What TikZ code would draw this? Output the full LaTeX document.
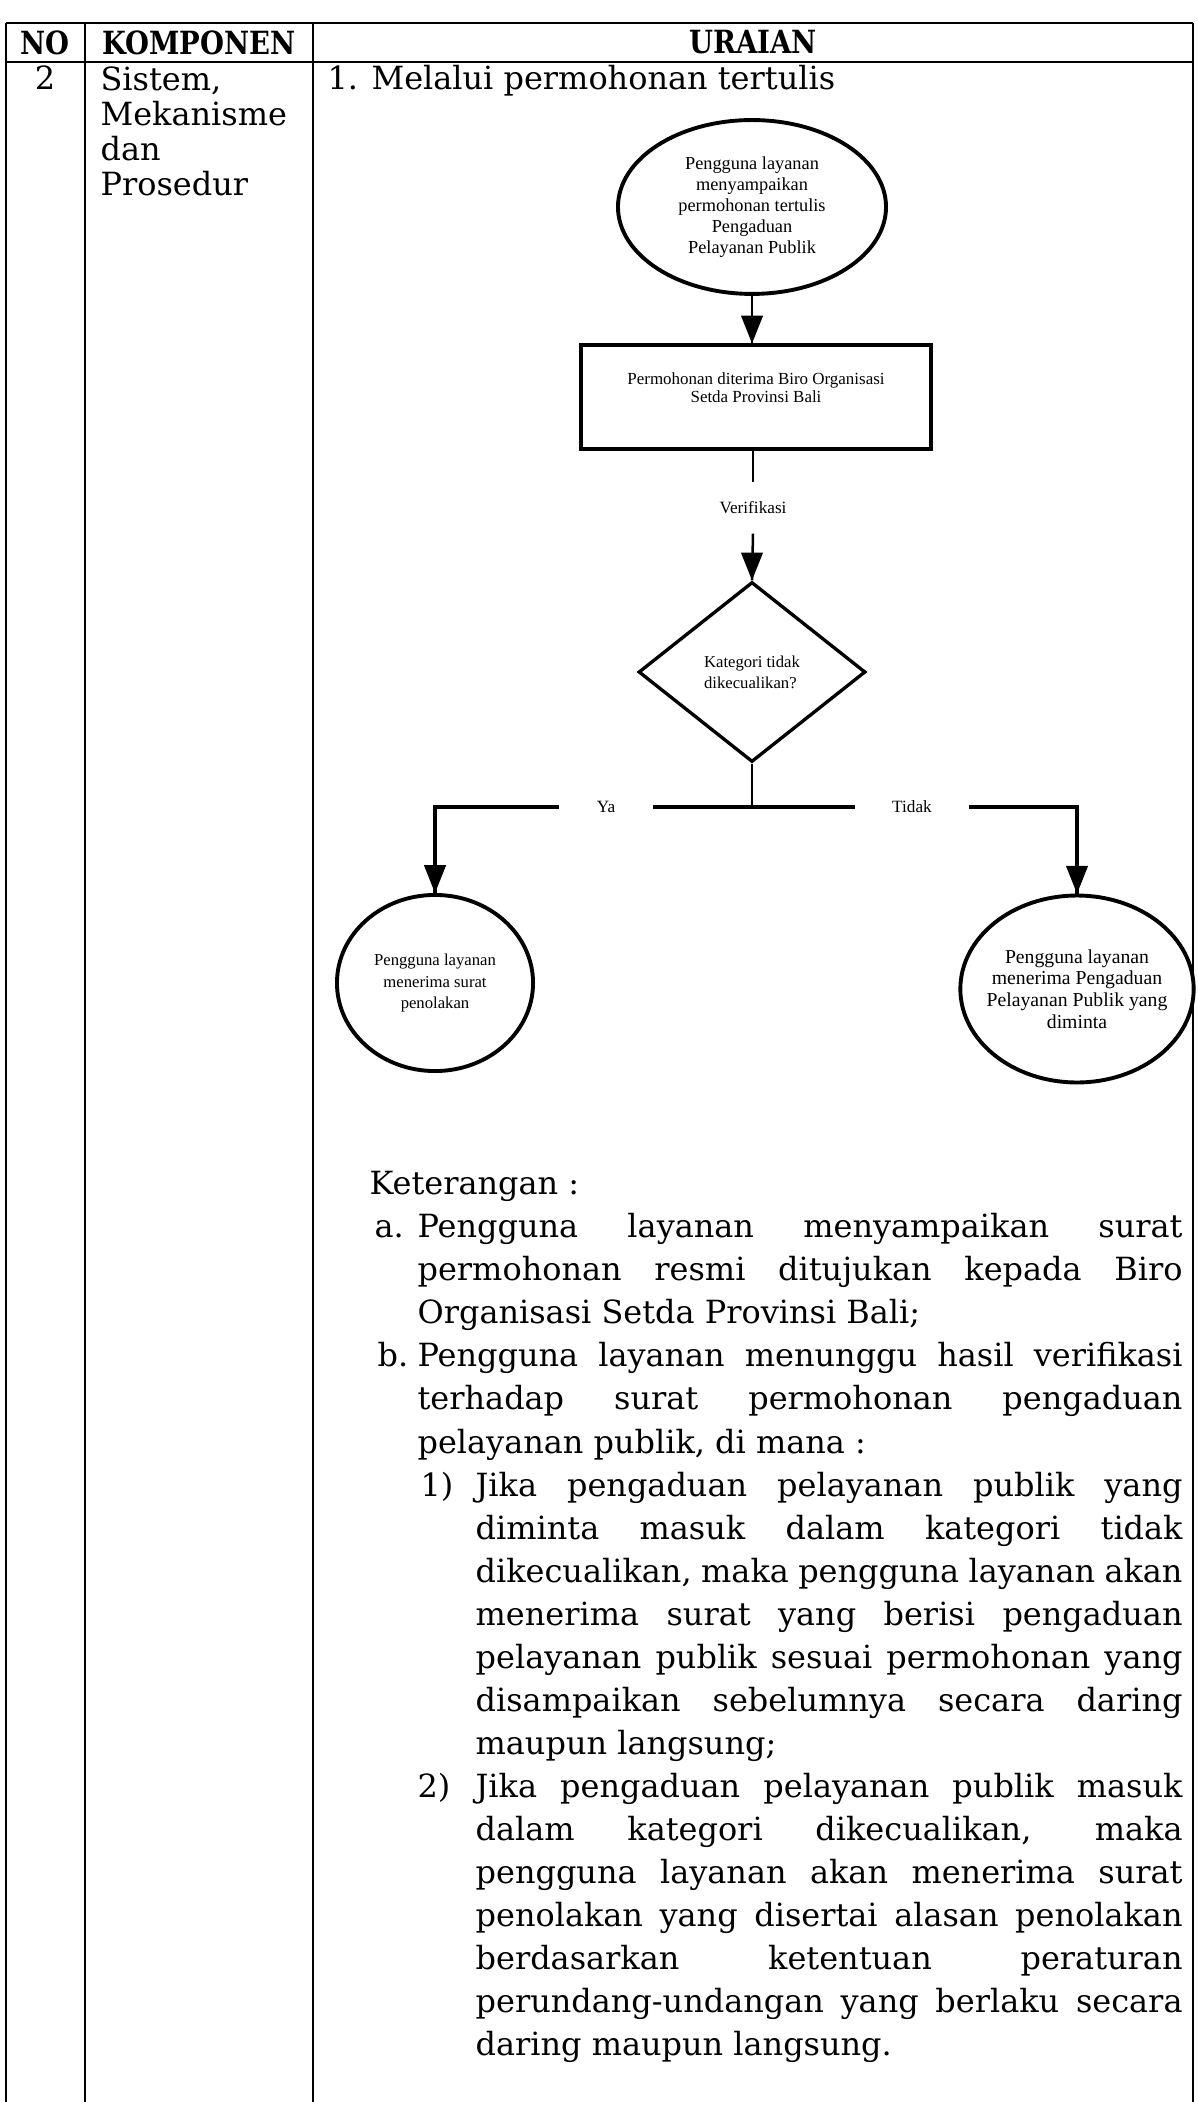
\documentclass[tikz,border=0pt]{standalone}
\usepackage{fontspec}
\setmainfont{DejaVu Serif}
\newfontfamily\flowfont{Liberation Serif}
\newfontfamily\headfont{DejaVu Serif}[FakeStretch=0.86]
\usetikzlibrary{shapes.geometric}

\begin{document}
\begin{tikzpicture}[x=0.36pt,y=0.36pt]
\tikzstyle{every node}+=[inner sep=0pt, font=\fontsize{11.5}{14}\selectfont]
\tikzstyle{tableline}=[black, line width=0.9pt]
\tikzstyle{flowline}=[black, line width=0.9pt]
\tikzstyle{headtext}=[font=\headfont\fontsize{11.5}{14}\selectfont\bfseries]
\tikzstyle{terminal}=[draw, ellipse, line width=1.4pt, align=center]
\tikzstyle{process}=[draw, rectangle, line width=1.2pt, align=center]
\tikzstyle{decision}=[draw, diamond, line width=1.2pt, align=left]
\tikzstyle{flowtext}=[font=\flowfont\fontsize{6.2}{7.4}\selectfont]
\useasboundingbox (0,0) rectangle (1197,-2102);
\draw [tableline] (6,-23) -- (1193,-23);
\draw [tableline] (6,-62) -- (1193,-62);
\draw [tableline] (6,-23) -- (6,-2102);
\draw [tableline] (85,-23) -- (85,-2102);
\draw [tableline] (313,-23) -- (313,-2102);
\draw [tableline] (1193,-23) -- (1193,-2102);
\node (hno) at (45,-42.5) [headtext] {NO};
\node (hkomp) at (199,-42.5) [headtext] {KOMPONEN};
\node (hurai) at (753,-42.5) [headtext] {URAIAN};
\node (nomor) at (45,-90) [anchor=base] {2};
\node (komponen) at (100,-65.5) [anchor=north west, align=left, font=\fontsize{11.5}{12.6}\selectfont] {\strut Sistem,\\Mekanisme\\dan\\Prosedur};
\node (judul) at (327,-90) [anchor=base west] {1. Melalui permohonan tertulis};
\node (start) at (752,-207) [terminal, minimum width=96.5pt, minimum height=62.6pt, font=\flowfont\fontsize{6.6}{7.6}\selectfont] {Pengguna layanan\\menyampaikan\\permohonan tertulis\\Pengaduan\\Pelayanan Publik};
\node (terima) at (756,-397) [process, minimum width=126pt, minimum height=37.4pt, font=\flowfont\fontsize{6.1}{6.5}\selectfont] {Permohonan diterima Biro Organisasi\\Setda Provinsi Bali\\ \mbox{}};
\node (verif) at (753,-508) [flowtext, minimum height=18pt] {Verifikasi};
\node (cek) at (752,-672) [decision, minimum width=81.7pt, minimum height=64.8pt, font=\flowfont\fontsize{6}{7.6}\selectfont] {Kategori tidak\\dikecualikan?};
\coordinate (cabang) at (752,-807);
\node (ya) at (606,-807) [flowtext, minimum width=33.5pt] {Ya};
\node (tidak) at (912,-807) [flowtext, minimum width=40.3pt] {Tidak};
\node (tolak) at (435,-983) [terminal, minimum width=70.6pt, minimum height=63.4pt, font=\flowfont\fontsize{6}{7.9}\selectfont] {Pengguna layanan\\menerima surat\\penolakan};
\node (hasil) at (1077,-989) [terminal, minimum width=84pt, minimum height=67.3pt, inner xsep=-8pt, font=\flowfont\fontsize{7.1}{7.8}\selectfont] {Pengguna layanan\\menerima Pengaduan\\Pelayanan Publik yang\\diminta};
\draw [flowline] (start.south) -- (start.south |- terima.north);
\fill [black] (start.south |- terima.north) -- ++(-4pt,10pt) -- ++(8pt,0pt) -- cycle;
\draw [flowline] (terima.south -| verif.north) -- (verif.north);
\draw [flowline] (verif.south) -- (cek.north);
\fill [black] (cek.north) -- ++(-4pt,10pt) -- ++(8pt,0pt) -- cycle;
\draw [flowline] (cek.south) -- (cabang);
\draw [flowline, line width=1.1pt] (ya.east) -- (tidak.west);
\draw [flowline, line width=1.1pt] (ya.west) -| (tolak.north);
\fill [black] (tolak.north) -- ++(-4pt,10pt) -- ++(8pt,0pt) -- cycle;
\draw [flowline, line width=1.1pt] (tidak.east) -| (hasil.north);
\fill [black] (hasil.north) -- ++(-4pt,10pt) -- ++(8pt,0pt) -- cycle;
\node (ket) at (369,-1164) [anchor=north west, text width=292.7pt, align=justify, font=\fontsize{11.5}{15.5}\selectfont] {\parindent=0pt \tolerance=10000 \hyphenpenalty=10000
\noindent\strut Keterangan :\par
{\leftskip=17.3pt \noindent\llap{\makebox[15.5pt][l]{a.}}Pengguna layanan menyampaikan surat\linebreak permohonan resmi ditujukan kepada Biro\linebreak Organisasi Setda Provinsi Bali;\par}
{\leftskip=17.3pt \noindent\llap{\makebox[14.4pt][l]{b.}}Pengguna layanan menunggu hasil verifikasi\linebreak terhadap surat permohonan pengaduan\linebreak pelayanan publik, di mana :\par}
{\leftskip=38.2pt \noindent\llap{\makebox[19.8pt][l]{1)}}Jika pengaduan pelayanan publik yang\linebreak diminta masuk dalam kategori tidak\linebreak dikecualikan, maka pengguna layanan akan\linebreak menerima surat yang berisi pengaduan\linebreak pelayanan publik sesuai permohonan yang\linebreak disampaikan sebelumnya secara daring\linebreak maupun langsung;\par}
{\leftskip=38.2pt \noindent\llap{\makebox[20.9pt][l]{2)}}Jika pengaduan pelayanan publik masuk\linebreak dalam kategori dikecualikan, maka\linebreak pengguna layanan akan menerima surat\linebreak penolakan yang disertai alasan penolakan\linebreak berdasarkan ketentuan peraturan\linebreak perundang-undangan yang berlaku secara\linebreak daring maupun langsung.\par}};
\end{tikzpicture}
\end{document}
